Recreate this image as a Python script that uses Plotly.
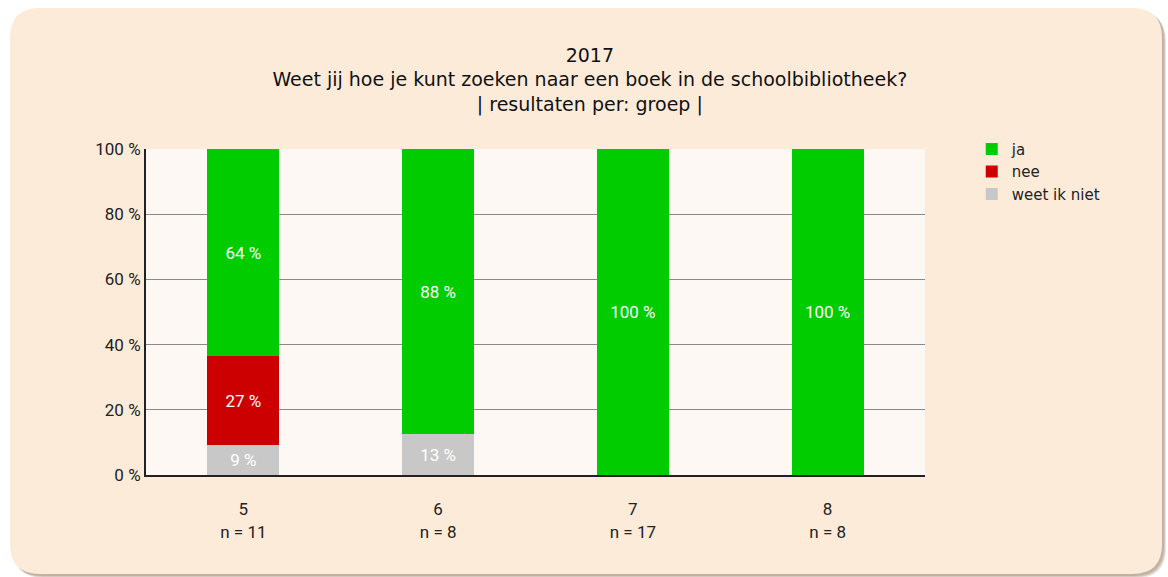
import plotly.graph_objects as go

groups = ["5", "6", "7", "8"]
n_values = [11, 8, 17, 8]
ja = [63.6, 87.5, 100, 100]
nee = [27.3, 0, 0, 0]
weet_niet = [9.1, 12.5, 0, 0]
y_ticks = [0, 20, 40, 60, 80, 100]
title_lines = ["2017",
               "Weet jij hoe je kunt zoeken naar een boek in de schoolbibliotheek?",
               "| resultaten per: groep |"]

W, H = 1168, 577
ML, MR, MT, MB = 146, 243, 149, 102
PW, PH = W - ML - MR, H - MT - MB

def px(x):
    return (x - ML) / PW

def py(y):
    return (H - MB - y) / PH

def rrect(x0, y0, x1, y1, r):
    pts = (f"M {px(x0 + r)},{py(y0)} L {px(x1 - r)},{py(y0)} "
           f"Q {px(x1)},{py(y0)} {px(x1)},{py(y0 + r)} "
           f"L {px(x1)},{py(y1 - r)} Q {px(x1)},{py(y1)} {px(x1 - r)},{py(y1)} "
           f"L {px(x0 + r)},{py(y1)} Q {px(x0)},{py(y1)} {px(x0)},{py(y1 - r)} "
           f"L {px(x0)},{py(y0 + r)} Q {px(x0)},{py(y0)} {px(x0 + r)},{py(y0)} Z")
    return pts

cats = [f"{g}<br>n = {n}" for g, n in zip(groups, n_values)]

def labels(vals):
    return [f"{int(v + 0.5)} %" if v > 0 else "" for v in vals]

label_font = dict(family="Roboto", size=17, color="#ffffff")
fig = go.Figure()
for name, vals, col in [("weet ik niet", weet_niet, "#c8c8c8"),
                        ("nee", nee, "#cc0000"),
                        ("ja", ja, "#00cc00")]:
    fig.add_trace(go.Bar(
        x=cats, y=vals, name=name, marker=dict(color=col, line=dict(width=0)),
        width=0.37, text=labels(vals), textposition="inside",
        insidetextanchor="middle", textangle=0, textfont=label_font,
        cliponaxis=False, hoverinfo="skip"))

# helper trace so the grid-only overlay axis is drawn
fig.add_trace(go.Scatter(x=cats, y=[None] * len(cats), yaxis="y2",
                         showlegend=False, hoverinfo="skip", mode="lines"))

shapes = []
for off, op in [(4, 0.25), (3, 0.35), (2, 0.45)]:
    shapes.append(dict(type="path", xref="paper", yref="paper", layer="below",
                       path=rrect(10 + off, 8 + off, 1162 + off, 574 + off, 30),
                       fillcolor=f"rgba(170,150,130,{op})", line=dict(width=0)))
shapes.append(dict(type="path", xref="paper", yref="paper", layer="below",
                   path=rrect(10, 8, 1162, 574, 30),
                   fillcolor="#fdebda", line=dict(width=0)))
shapes.append(dict(type="rect", xref="paper", yref="paper", layer="below",
                   x0=0, x1=1, y0=0, y1=1, fillcolor="#fef8f4", line=dict(width=0)))

fig.update_layout(
    width=W, height=H,
    margin=dict(l=ML, r=MR, t=MT, b=MB),
    paper_bgcolor="#ffffff", plot_bgcolor="rgba(0,0,0,0)",
    barmode="stack",
    shapes=shapes,
    title=dict(text="<br>".join(title_lines), x=0.505, xref="container",
               xanchor="center", y=0.893, yref="container", yanchor="top",
               font=dict(family="DejaVu Sans", size=19, color="#111111")),
    legend=dict(x=1.06, y=1.05, xanchor="left", yanchor="top",
                traceorder="reversed", bgcolor="rgba(0,0,0,0)",
                font=dict(family="DejaVu Sans", size=15, color="#222222"),
                itemwidth=30, tracegroupgap=0),
    xaxis=dict(showline=True, linecolor="#222222", linewidth=2, showgrid=False,
               tickfont=dict(family="Roboto", size=17, color="#222222"),
               ticks="", ticklabelstandoff=18, fixedrange=True),
    yaxis=dict(range=[0, 100], tickvals=y_ticks,
               ticktext=[f"{v} %" for v in y_ticks],
               showline=True, linecolor="#222222", linewidth=2,
               showgrid=False, zeroline=False, ticks="",
               tickfont=dict(family="Roboto", size=17, color="#222222"),
               ticklabelstandoff=0, fixedrange=True),
    yaxis2=dict(range=[0, 100], overlaying="y", side="right",
                tickvals=y_ticks[1:-1],
                showticklabels=False, showgrid=True, gridcolor="#8a8a8a",
                gridwidth=1, zeroline=False, showline=False, ticks="",
                fixedrange=True),
    showlegend=True,
)

fig.write_html("out.html")
